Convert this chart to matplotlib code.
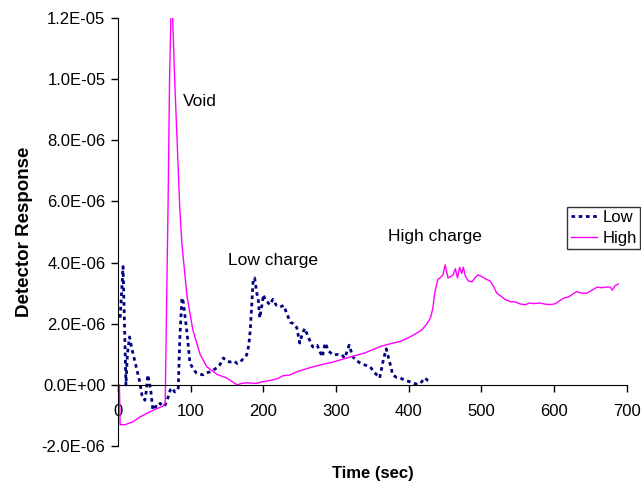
import numpy as np
import matplotlib
matplotlib.use("Agg")
import matplotlib.pyplot as plt
from matplotlib.ticker import FuncFormatter

plt.rcParams["font.family"] = ["Liberation Sans", "DejaVu Sans"]

# values, response in units of 1e-6
low_t = [3, 5, 7, 9, 11, 13, 16, 19, 23, 26, 30, 33, 37, 39, 41, 43, 45, 48, 52, 55,
         58, 62, 65, 69, 72, 75, 78, 81, 83, 85, 88, 90, 92, 95, 99, 104, 108, 113, 117, 122,
         127, 132, 136, 140, 145, 150, 154, 160, 164, 168, 172, 177, 180, 182, 184, 186, 188, 191, 193, 195,
         198, 200, 203, 206, 209, 213, 218, 223, 228, 232, 237, 242, 246, 250, 254, 257, 262, 268, 274, 281,
         285, 290, 296, 302, 308, 312, 318, 323, 328, 333, 340, 347, 353, 360, 365, 369, 374, 378, 383, 388,
         395, 402, 407, 411, 416, 422, 426, 429]
low_v = [2.2, 3.0, 3.87, 2.0, 0.0, 1.0, 1.57, 1.2, 0.8, 0.5, 0.1, -0.33, -0.5, -0.2, 0.33, 0.1, -0.15, -0.82, -0.7, -0.72,
         -0.6, -0.7, -0.65, -0.4, -0.16, -0.1, -0.23, -0.2, -0.1, 1.47, 2.85, 2.7, 2.3, 1.7, 0.72, 0.5, 0.39, 0.35, 0.33, 0.4,
         0.43, 0.5, 0.56, 0.65, 0.88, 0.78, 0.75, 0.78, 0.7, 0.75, 0.85, 0.98, 1.3, 1.8, 2.6, 3.44, 3.5, 3.0, 2.78, 2.19,
         2.6, 2.95, 2.75, 2.7, 2.62, 2.8, 2.6, 2.55, 2.6, 2.35, 2.05, 2.0, 1.87, 1.37, 1.7, 1.85, 1.55, 1.24, 1.3, 0.92,
         1.37, 1.1, 0.98, 1.0, 0.98, 0.88, 1.3, 0.92, 0.8, 0.72, 0.65, 0.59, 0.4, 0.23, 0.82, 1.18, 0.72, 0.33, 0.25, 0.23,
         0.15, 0.1, 0.05, 0.03, 0.05, 0.23, 0.15, 0.13]

high_t = [0, 2, 3, 10, 21, 30, 44, 51, 62, 65, 67, 69, 71, 73, 75, 78, 81, 85, 88, 95,
          103, 113, 122, 136, 150, 164, 170, 177, 190, 198, 210, 219, 227, 237, 245, 255, 266, 278, 296, 310,
          325, 340, 360, 375, 388, 400, 410, 418, 425, 430, 433, 436, 440, 443, 447, 450, 454, 458, 461, 464,
          467, 470, 473, 475, 478, 482, 487, 491, 495, 500, 507, 512, 517, 521, 527, 532, 540, 546, 553, 560,
          566, 572, 580, 588, 595, 601, 608, 614, 620, 626, 631, 638, 645, 652, 659, 665, 672, 677, 680, 684,
          688]
high_v = [0.0, 0.0, -1.3, -1.3, -1.2, -1.05, -0.88, -0.8, -0.69, -0.6, 2.8, 6.0, 10.0, 12.2, 12.2, 10.0, 8.2, 5.8, 4.6, 2.9,
          1.8, 1.0, 0.6, 0.35, 0.22, 0.0, 0.05, 0.07, 0.05, 0.1, 0.15, 0.2, 0.3, 0.33, 0.42, 0.5, 0.58, 0.65, 0.75, 0.85,
          0.95, 1.05, 1.25, 1.35, 1.42, 1.55, 1.68, 1.8, 2.0, 2.2, 2.5, 3.05, 3.45, 3.5, 3.6, 3.93, 3.5, 3.55, 3.6, 3.8,
          3.5, 3.85, 3.65, 3.85, 3.55, 3.4, 3.37, 3.5, 3.6, 3.55, 3.45, 3.4, 3.2, 3.0, 2.9, 2.8, 2.72, 2.72, 2.65, 2.62,
          2.68, 2.66, 2.68, 2.64, 2.63, 2.65, 2.76, 2.85, 2.88, 2.98, 3.05, 3.0, 3.0, 3.1, 3.2, 3.18, 3.2, 3.2, 3.1, 3.25,
          3.3]

x_ticks = [0, 100, 200, 300, 400, 500, 600, 700]
y_ticks = [-2e-6, 0, 2e-6, 4e-6, 6e-6, 8e-6, 10e-6, 12e-6]

low = np.array(low_v) * 1e-6
high = np.array(high_v) * 1e-6

fig = plt.figure(figsize=(6.41, 4.87), dpi=100)
ax = fig.add_axes([0.184, 0.084, 0.794, 0.879])

l1, = ax.plot(low_t, low, color="#000080", lw=2.0, linestyle=(0, (1.3, 1.3)), label="Low")
l2, = ax.plot(high_t, high, color="#FF00FF", lw=1.0, label="High")

ax.set_xlim(0, 700)
ax.set_ylim(-2e-6, 1.2e-5)
ax.set_xticks(x_ticks)
ax.set_yticks(y_ticks)
ax.yaxis.set_major_formatter(FuncFormatter(lambda v, p: f"{v:.1E}"))

ax.spines["top"].set_visible(False)
ax.spines["right"].set_visible(False)
ax.spines["bottom"].set_position(("data", 0))
ax.tick_params(axis="both", labelsize=12, length=5, width=1, direction="out")
ax.tick_params(axis="y", pad=4)
ax.tick_params(axis="x", pad=9)

ax.set_ylabel("Detector Response", fontsize=13.5, fontweight="bold", labelpad=6)
fig.text(0.582, 0.027, "Time (sec)", fontsize=12, fontweight="bold", ha="center", va="center")

ax.text(89, 9.26e-6, "Void", fontsize=12.5, va="center")
ax.text(151, 4.06e-6, "Low charge", fontsize=12.5, va="center")
ax.text(371, 4.84e-6, "High charge", fontsize=12.5, va="center")

leg = fig.legend(handles=[l1, l2], loc="upper right", bbox_to_anchor=(0.9985, 0.575),
                 fontsize=12, frameon=True, fancybox=False, handlelength=1.6,
                 borderpad=0.2, labelspacing=0.35, handletextpad=0.3, borderaxespad=0)
leg.get_frame().set_edgecolor("black")
leg.get_frame().set_linewidth(1)

fig.savefig("out.png", dpi=100)
